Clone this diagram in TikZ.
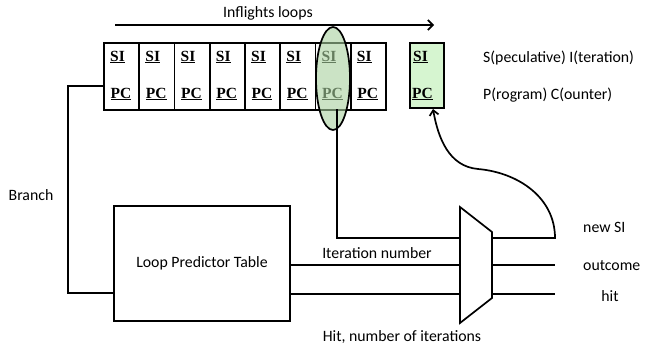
\documentclass[tikz,border=0pt]{standalone}
\usepackage{fontspec}
\setmainfont{Carlito}
\newfontfamily\cellfont{Liberation Serif}
\usetikzlibrary{arrows.meta,shapes.geometric}
\definecolor{ovgreen}{RGB}{168,208,158}
\definecolor{boxgreen}{RGB}{214,245,208}
\begin{document}
\begin{tikzpicture}[x=1pt,y=-1pt,
  line/.style={line width=1.7pt},
  cellbox/.style={draw,line width=1.7pt,minimum width=35.25pt,minimum height=67pt,inner sep=0pt},
  celltxt/.style={font=\cellfont\bfseries\fontsize{15.5}{16}\selectfont,inner sep=0pt,anchor=base west},
  lbl/.style={font=\fontsize{15.8}{18}\selectfont,inner sep=0pt}]
\useasboundingbox (0,0) rectangle (650,345);
% cells
\foreach \i in {1,...,8}{
  \node[cellbox] (c\i) at ({104+35.25*(\i-0.5)},76.5) {};
  \node[celltxt] (si\i) at ({104+35.25*(\i-1)+6},61) {\underline{SI}};
  \node[celltxt] (pc\i) at ({104+35.25*(\i-1)+6.5},98) {\underline{PC}};
}
% green box
\node[cellbox,fill=boxgreen,minimum width=34pt,minimum height=65pt] (g) at (427,75.5) {};
\node[celltxt] (gsi) at (413,61) {\underline{SI}};
\node[celltxt] (gpc) at (412,98) {\underline{PC}};
% ellipse
\node[draw,line width=1.7pt,ellipse,minimum width=34pt,minimum height=103pt,inner sep=0pt,
  fill=ovgreen,fill opacity=0.6] (ov) at (333,78.5) {};
% inflight arrow
\coordinate (a1) at (115,25);
\coordinate (a2) at (434,25);
\draw[line,-{Straight Barb[length=5pt,width=10pt]}] (a1) -- (a2);
\node[lbl] (tin) at (268,13) {Inflights loops};
% right labels
\node[lbl,anchor=west] (tsi) at (483,58) {S(peculative) I(teration)};
\node[lbl,anchor=west] (tpc) at (483,95) {P(rogram) C(ounter)};
% LPT
\node[draw,line width=1.7pt,minimum width=176pt,minimum height=115pt,inner sep=0pt,
  font=\fontsize{15.8}{18}\selectfont] (lpt) at (202,263.5) {Loop Predictor Table};
% branch
\coordinate (b1) at (68,86);
\coordinate (b2) at (68,293);
\draw[line] (c1.west |- b1) -- (b1) -- (b2) -- (lpt.west |- b2);
\node[lbl] (tbr) at (31,195) {Branch};
% mux
\coordinate (m1) at (460,207);
\coordinate (m2) at (492,232);
\coordinate (m3) at (492,298);
\coordinate (m4) at (460,323);
\draw[line,line join=miter] (m1) -- (m2) -- (m3) -- (m4) -- cycle;
% inputs
\coordinate (v0) at (337,109);
\coordinate (v1) at (337,238);
\coordinate (in0) at (460,238);
\coordinate (in1) at (460,265);
\coordinate (in2) at (460,294);
\draw[line] (v0) -- (v1) -- (in0);
\draw[line] (lpt.east |- in1) -- (in1);
\draw[line] (lpt.east |- in2) -- (in2);
% outputs
\coordinate (o0) at (492,238);
\coordinate (o1) at (555,238);
\coordinate (o2) at (492,265);
\coordinate (o3) at (555,265);
\coordinate (o4) at (492,294);
\coordinate (o5) at (555,294);
\coordinate (gt) at (433,109);
\draw[line,-{Straight Barb[length=5pt,width=9pt]}] (o0) -- (o1) to[out=90,in=-5] (478,169) to[out=175,in=-80] (gt);
\draw[line] (o2) -- (o3);
\draw[line] (o4) -- (o5);
% labels
\node[lbl] (tit) at (377,253) {Iteration number};
\node[lbl] (thit) at (402,337) {Hit, number of iterations};
\node[lbl,anchor=west] (tnew) at (583,227) {new SI};
\node[lbl,anchor=west] (tout) at (583,266) {outcome};
\node[lbl] (th) at (610,296) {hit};
\end{tikzpicture}
\end{document}
